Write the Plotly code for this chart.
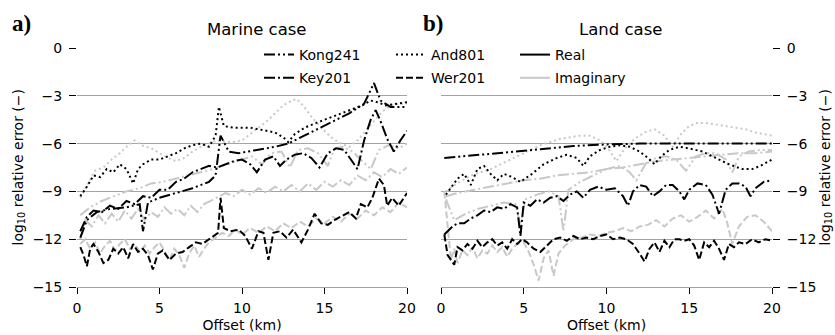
import plotly.graph_objects as go

# ---------------------------------------------------------------- data
# Offsets in km, errors as log10 of relative error.

# Marine case, real parts
mar_kong_re_x = [0.2, 0.6, 1.2, 2.0, 3.0, 3.8, 4.0, 4.3, 5.0, 6.0, 7.0, 8.0, 8.4, 8.7, 9.2, 9.8, 11.0, 12.0, 12.8, 13.6, 14.6, 15.6, 16.5, 17.4, 18.0, 18.4, 19.0, 20.0]
mar_kong_re_y = [-11.9, -10.8, -10.3, -10.1, -10.0, -9.8, -11.5, -9.7, -9.4, -9.1, -8.8, -8.4, -8.0, -5.5, -6.5, -6.6, -6.4, -6.2, -6.0, -5.6, -5.1, -4.6, -4.1, -3.5, -2.2, -3.3, -3.7, -3.7]

mar_key_re_x = [0.2, 0.6, 1.0, 1.5, 2.0, 2.5, 3.0, 3.5, 4.0, 4.5, 5.0, 5.5, 6.0, 6.5, 7.0, 7.5, 8.0, 8.5, 9.0, 9.5, 10.0, 10.5, 10.9, 11.4, 11.9, 12.3, 12.7, 13.2, 13.7, 14.2, 14.7, 15.2, 15.7, 16.2, 16.6, 17.0, 17.4, 17.8, 18.1, 18.4, 18.8, 19.2, 19.6, 20.0]
mar_key_re_y = [-11.5, -10.6, -10.2, -10.3, -9.9, -10.1, -9.6, -9.8, -9.3, -9.4, -8.9, -8.9, -8.4, -8.2, -7.8, -7.6, -7.4, -7.5, -7.3, -7.1, -7.0, -7.3, -7.8, -7.0, -6.8, -7.4, -7.0, -6.7, -6.6, -6.9, -7.5, -6.6, -6.3, -6.4, -7.0, -7.6, -5.8, -4.5, -3.9, -4.6, -5.7, -6.5, -5.8, -5.2]

mar_and_re_x = [0.2, 0.6, 1.0, 1.4, 1.8, 2.2, 2.6, 3.0, 3.4, 3.7, 4.0, 4.5, 5.0, 5.5, 6.0, 6.5, 7.0, 7.5, 8.0, 8.4, 8.6, 8.9, 9.5, 10.0, 10.5, 11.0, 11.5, 12.0, 12.5, 12.8, 13.2, 13.8, 14.5, 15.5, 16.5, 17.3, 17.8, 18.2, 18.7, 19.3, 20.0]
mar_and_re_y = [-9.3, -8.7, -8.0, -8.1, -7.6, -7.8, -7.3, -7.6, -8.5, -7.6, -7.3, -7.0, -7.0, -6.8, -6.6, -6.3, -6.1, -6.0, -6.2, -5.5, -3.7, -4.9, -5.0, -5.0, -5.0, -5.1, -5.2, -5.3, -5.6, -5.9, -5.4, -5.0, -4.7, -4.3, -3.9, -3.6, -3.3, -3.4, -3.6, -3.5, -3.4]

mar_wer_re_x = [0.2, 0.4, 0.6, 0.8, 1.0, 1.3, 1.6, 1.9, 2.2, 2.5, 2.8, 3.1, 3.4, 3.7, 4.0, 4.3, 4.6, 4.9, 5.2, 5.6, 6.0, 6.4, 6.8, 7.2, 7.6, 8.0, 8.3, 8.55, 8.7, 8.9, 9.3, 9.8, 10.2, 10.6, 11.0, 11.3, 11.6, 11.9, 12.3, 12.7, 13.1, 13.6, 14.0, 14.4, 14.8, 15.2, 15.6, 16.0, 16.5, 16.9, 17.2, 17.6, 17.9, 18.3, 18.6, 18.8, 19.1, 19.5, 20.0]
mar_wer_re_y = [-12.5, -13.0, -13.7, -12.6, -12.3, -12.8, -13.5, -13.3, -12.6, -12.9, -12.5, -13.2, -12.3, -12.8, -12.6, -13.0, -13.9, -12.9, -12.7, -13.3, -12.9, -12.8, -12.5, -12.2, -12.3, -12.0, -11.8, -11.6, -9.4, -11.3, -11.5, -11.4, -11.8, -12.6, -11.5, -11.6, -13.3, -11.6, -11.5, -11.9, -11.4, -12.2, -11.4, -10.4, -11.0, -11.1, -10.8, -10.6, -10.3, -10.7, -9.8, -10.0, -9.4, -8.2, -8.6, -9.9, -9.4, -9.9, -9.1]

# Marine case, imaginary parts
mar_kong_im_x = [0.2, 0.8, 1.5, 2.2, 3.0, 3.8, 4.5, 5.2, 6.0, 6.8, 7.5, 8.2, 8.8, 9.4, 10.0, 10.6, 11.2, 11.8, 12.4, 12.9, 13.4, 14.0, 14.6, 15.2, 15.6, 16.1, 16.7, 17.3, 17.8, 18.3, 18.9, 19.5, 20.0]
mar_kong_im_y = [-10.5, -10.0, -9.6, -9.3, -9.0, -8.8, -8.5, -8.4, -8.2, -8.0, -7.8, -7.6, -7.4, -7.2, -7.0, -6.8, -7.3, -6.6, -6.5, -7.5, -6.4, -6.3, -6.6, -7.4, -6.3, -6.2, -6.5, -7.1, -7.6, -6.4, -6.1, -6.3, -6.0]

mar_key_im_x = [0.2, 0.5, 0.9, 1.3, 1.7, 2.1, 2.5, 2.9, 3.3, 3.7, 4.1, 4.5, 4.9, 5.3, 5.7, 6.1, 6.5, 6.9, 7.3, 7.7, 8.1, 8.5, 9.0, 9.5, 10.0, 10.5, 11.0, 11.5, 12.0, 12.5, 13.0, 13.5, 14.0, 14.5, 15.0, 15.5, 16.0, 16.5, 17.0, 17.5, 18.0, 18.5, 19.0, 19.5, 20.0]
mar_key_im_y = [-12.0, -10.8, -11.2, -10.5, -11.0, -10.4, -10.9, -10.2, -10.7, -10.1, -10.8, -10.3, -10.6, -10.0, -10.4, -10.1, -10.5, -9.9, -10.3, -9.8, -9.6, -9.4, -9.1, -9.3, -8.9, -9.2, -8.8, -9.1, -8.7, -9.0, -8.6, -9.0, -8.5, -8.9, -8.4, -8.7, -8.3, -8.6, -8.0, -8.3, -7.8, -8.1, -7.6, -7.9, -7.5]

mar_and_im_x = [0.2, 0.6, 1.1, 1.6, 2.1, 2.6, 3.1, 3.5, 3.9, 4.5, 5.0, 5.5, 6.0, 6.5, 7.0, 7.5, 8.0, 8.5, 9.0, 9.5, 10.0, 10.5, 11.0, 11.5, 12.0, 12.5, 13.0, 13.3, 13.7, 14.2, 14.8, 15.4, 16.0, 16.5, 17.0, 17.5, 18.0, 18.5, 19.0, 19.5, 20.0]
mar_and_im_y = [-9.4, -8.6, -7.7, -7.5, -7.0, -6.6, -6.1, -5.8, -6.1, -6.3, -6.6, -6.9, -7.1, -6.9, -6.5, -6.2, -6.0, -5.8, -5.9, -5.9, -5.8, -5.4, -5.0, -4.6, -4.1, -3.6, -3.3, -3.2, -3.6, -4.3, -5.0, -5.6, -6.0, -6.2, -5.8, -5.2, -4.6, -4.0, -3.6, -3.5, -3.5]

mar_wer_im_x = [0.2, 0.5, 0.8, 1.1, 1.4, 1.7, 2.0, 2.3, 2.6, 2.9, 3.2, 3.5, 3.8, 4.1, 4.4, 4.7, 5.0, 5.3, 5.6, 5.9, 6.2, 6.5, 6.8, 7.1, 7.4, 7.7, 8.0, 8.4, 8.8, 9.2, 9.6, 10.0, 10.5, 11.0, 11.5, 12.0, 12.5, 13.0, 13.5, 14.0, 14.5, 15.0, 15.5, 16.0, 16.5, 17.0, 17.5, 18.0, 18.5, 19.0, 19.5, 20.0]
mar_wer_im_y = [-12.3, -12.0, -12.6, -12.2, -12.9, -12.4, -12.1, -12.7, -12.3, -12.0, -12.6, -12.3, -12.8, -12.4, -12.9, -12.5, -12.2, -12.8, -13.3, -12.6, -13.0, -13.8, -12.9, -12.4, -13.1, -12.6, -12.2, -11.9, -11.6, -11.8, -11.4, -11.7, -11.3, -11.6, -11.2, -11.5, -11.0, -11.3, -10.9, -11.2, -10.7, -11.0, -10.6, -10.9, -10.4, -10.7, -10.2, -10.5, -10.0, -10.3, -9.7, -10.0]

# Land case, real parts
land_kong_re_x = [0.2, 2.0, 4.0, 6.0, 8.0, 10.0, 12.0, 14.0, 16.0, 18.0, 20.0]
land_kong_re_y = [-6.9, -6.75, -6.55, -6.35, -6.15, -6.05, -6.0, -6.0, -6.0, -6.0, -6.0]

land_key_re_x = [0.2, 0.4, 0.7, 1.0, 1.4, 1.8, 2.2, 2.6, 3.0, 3.4, 3.8, 4.2, 4.6, 4.8, 5.0, 5.4, 5.8, 6.2, 6.6, 7.0, 7.4, 7.8, 8.2, 8.6, 9.0, 9.5, 10.0, 10.5, 11.0, 11.3, 11.6, 12.0, 12.4, 12.8, 13.2, 13.6, 14.0, 14.4, 14.7, 15.0, 15.5, 16.0, 16.4, 16.8, 17.2, 17.6, 18.0, 18.4, 18.7, 19.0, 19.5, 20.0]
land_key_re_y = [-11.7, -11.5, -11.2, -11.0, -11.0, -10.7, -10.5, -10.2, -10.3, -10.0, -10.1, -9.8, -10.0, -11.8, -9.7, -9.9, -9.5, -9.7, -9.4, -9.3, -9.6, -9.2, -9.0, -9.4, -8.9, -8.7, -8.9, -8.8, -9.3, -9.9, -9.0, -8.6, -8.7, -9.3, -9.0, -8.6, -8.6, -9.0, -9.5, -8.9, -8.5, -8.6, -9.2, -10.4, -8.9, -8.5, -8.5, -8.7, -9.3, -8.8, -8.4, -8.3]

land_and_re_x = [0.3, 0.6, 1.0, 1.4, 1.8, 2.2, 2.6, 3.0, 3.4, 3.8, 4.3, 4.8, 5.5, 6.2, 7.0, 7.6, 8.2, 8.6, 9.0, 9.6, 10.2, 10.8, 11.4, 12.0, 12.5, 12.9, 13.3, 13.8, 14.4, 15.0, 15.8, 16.6, 17.4, 18.2, 18.8, 19.3, 19.7, 20.0]
land_and_re_y = [-9.2, -8.8, -8.2, -7.9, -8.6, -7.6, -7.4, -7.9, -8.3, -7.9, -8.1, -8.4, -7.9, -7.3, -6.9, -6.7, -6.9, -7.4, -6.8, -6.4, -6.2, -6.1, -6.2, -6.5, -6.9, -7.3, -6.8, -6.4, -6.2, -6.3, -6.5, -6.9, -7.3, -7.6, -7.6, -7.4, -7.2, -7.0]

land_wer_re_x = [0.2, 0.4, 0.6, 0.8, 1.0, 1.3, 1.6, 1.9, 2.2, 2.5, 2.8, 3.1, 3.4, 3.7, 4.0, 4.3, 4.6, 4.9, 5.2, 5.6, 6.0, 6.4, 6.8, 7.2, 7.6, 8.0, 8.4, 8.8, 9.2, 9.6, 10.0, 10.4, 10.8, 11.2, 11.6, 12.0, 12.3, 12.6, 12.9, 13.2, 13.5, 13.8, 14.1, 14.4, 14.7, 15.0, 15.3, 15.6, 15.9, 16.2, 16.5, 16.8, 17.1, 17.4, 17.7, 18.0, 18.4, 18.8, 19.2, 19.6, 20.0]
land_wer_re_y = [-11.7, -13.0, -13.3, -13.6, -12.5, -12.7, -12.3, -12.6, -12.1, -12.5, -12.2, -12.0, -12.4, -12.2, -12.6, -12.0, -12.3, -12.0, -12.2, -12.6, -12.8, -12.4, -12.0, -11.9, -12.1, -11.8, -12.0, -11.9, -12.0, -11.8, -11.7, -12.0, -11.9, -12.0, -12.3, -12.9, -13.4, -12.6, -12.2, -12.8, -12.1, -12.5, -12.0, -12.0, -12.1, -12.0, -12.4, -13.3, -12.2, -12.5, -12.1, -12.6, -13.3, -12.3, -12.5, -12.2, -12.3, -12.0, -12.2, -12.0, -12.1]

# Land case, imaginary parts
land_kong_im_x = [0.3, 0.8, 1.5, 2.2, 3.0, 3.8, 4.5, 4.8, 5.1, 5.8, 6.5, 7.1, 7.4, 7.7, 8.4, 9.2, 10.0, 10.8, 11.4, 11.8, 12.4, 13.0, 13.6, 14.2, 14.8, 15.4, 16.0, 16.6, 17.2, 17.6, 18.0, 18.6, 19.3, 20.0]
land_kong_im_y = [-9.5, -10.8, -10.4, -10.1, -9.9, -9.7, -9.8, -11.1, -9.5, -9.2, -9.0, -9.3, -11.5, -8.9, -8.4, -8.0, -7.6, -7.4, -7.8, -8.3, -7.2, -6.9, -6.8, -7.0, -7.7, -6.8, -6.6, -6.6, -7.0, -7.8, -6.8, -6.5, -6.4, -6.4]

land_key_im_x = [0.3, 1.0, 2.0, 3.0, 4.0, 5.0, 6.0, 7.0, 8.0, 9.0, 10.0, 11.0, 12.0, 13.0, 14.0, 15.0, 16.0, 17.0, 18.0, 19.0, 20.0]
land_key_im_y = [-9.3, -9.1, -8.9, -8.7, -8.5, -8.3, -8.2, -8.0, -7.9, -7.8, -7.6, -7.5, -7.3, -7.1, -7.0, -6.9, -6.8, -6.7, -6.6, -6.6, -6.5]

land_and_im_x = [0.3, 0.8, 1.3, 1.8, 2.4, 3.0, 3.6, 4.2, 4.8, 5.4, 6.0, 6.6, 7.2, 7.8, 8.4, 9.0, 9.6, 10.1, 10.6, 11.1, 11.7, 12.3, 12.9, 13.5, 14.0, 14.5, 15.0, 15.5, 16.0, 16.6, 17.2, 17.8, 18.4, 19.0, 19.5, 20.0]
land_and_im_y = [-9.0, -8.6, -8.3, -8.0, -7.8, -7.6, -7.3, -7.0, -6.7, -6.4, -6.1, -5.9, -5.7, -5.6, -5.5, -5.5, -5.8, -6.3, -7.1, -6.3, -5.7, -5.3, -5.1, -5.5, -6.2, -5.4, -4.9, -4.7, -4.7, -4.8, -4.9, -5.0, -5.1, -5.3, -5.4, -5.5]

land_wer_im_x = [0.2, 0.4, 0.6, 0.8, 1.0, 1.3, 1.6, 1.9, 2.2, 2.5, 2.8, 3.1, 3.4, 3.7, 4.0, 4.3, 4.6, 5.0, 5.3, 5.6, 5.9, 6.2, 6.5, 6.8, 7.1, 7.5, 8.0, 8.5, 9.0, 9.5, 10.0, 10.5, 11.0, 11.5, 12.0, 12.5, 13.0, 13.5, 14.0, 14.5, 15.0, 15.5, 16.0, 16.5, 17.0, 17.3, 17.6, 18.0, 18.5, 19.0, 19.5, 20.0]
land_wer_im_y = [-9.0, -11.0, -13.3, -12.6, -13.5, -12.7, -13.0, -12.5, -13.2, -12.7, -12.9, -12.4, -12.8, -12.5, -13.1, -12.6, -12.3, -12.2, -12.8, -13.6, -14.6, -13.2, -12.7, -14.3, -12.9, -12.4, -12.0, -11.9, -11.7, -11.8, -11.6, -11.5, -11.3, -11.5, -11.2, -11.1, -10.8, -11.2, -10.7, -10.5, -10.9, -10.6, -10.2, -10.7, -10.1, -11.0, -12.3, -11.2, -10.6, -10.5, -10.9, -11.5]

filters = ["Kong241", "Key201", "And801", "Wer201"]
y_ticks = [0, -3, -6, -9, -12, -15]
x_ticks = [0, 5, 10, 15, 20]

# ---------------------------------------------------------------- styles
BLACK = "#000000"
GREY = "#c8c8c8"
GRID = "#a3a3a3"
FONT = "DejaVu Sans"
LW = 2
DASHES = {
    "Kong241": "11px,3px,2px,3px,2px,3px",
    "Key201": "11px,3px,2px,3px",
    "And801": "2px,3px",
    "Wer201": "7px,3px",
}

panels = {
    "x": {  # marine
        "Kong241": ((mar_kong_re_x, mar_kong_re_y), (mar_kong_im_x, mar_kong_im_y)),
        "Key201": ((mar_key_re_x, mar_key_re_y), (mar_key_im_x, mar_key_im_y)),
        "And801": ((mar_and_re_x, mar_and_re_y), (mar_and_im_x, mar_and_im_y)),
        "Wer201": ((mar_wer_re_x, mar_wer_re_y), (mar_wer_im_x, mar_wer_im_y)),
    },
    "x2": {  # land
        "Kong241": ((land_kong_re_x, land_kong_re_y), (land_kong_im_x, land_kong_im_y)),
        "Key201": ((land_key_re_x, land_key_re_y), (land_key_im_x, land_key_im_y)),
        "And801": ((land_and_re_x, land_and_re_y), (land_and_im_x, land_and_im_y)),
        "Wer201": ((land_wer_re_x, land_wer_re_y), (land_wer_im_x, land_wer_im_y)),
    },
}

fig = go.Figure()

# imaginary (grey) first, real (black) on top
for part, colour in ((1, GREY), (0, BLACK)):
    for xa, data in panels.items():
        ya = "y" if xa == "x" else "y2"
        for name in filters:
            xs, ys = data[name][part]
            fig.add_trace(go.Scatter(
                x=xs, y=ys, xaxis=xa, yaxis=ya, mode="lines",
                line=dict(color=colour, width=LW, dash=DASHES[name]),
                showlegend=False, hoverinfo="skip",
            ))

# legend entries: three columns of two rows
legend_cols = [
    ("legend", [("Kong241", BLACK, DASHES["Kong241"]), ("Key201", BLACK, DASHES["Key201"])]),
    ("legend2", [("And801", BLACK, DASHES["And801"]), ("Wer201", BLACK, DASHES["Wer201"])]),
    ("legend3", [("Real", BLACK, "solid"), ("Imaginary", GREY, "solid")]),
]
for leg, items in legend_cols:
    for label, colour, dash in items:
        fig.add_trace(go.Scatter(
            x=[None], y=[None], mode="lines", name=label, legend=leg,
            legendgroup=label,
            line=dict(color=colour, width=LW, dash=dash),
        ))

W, H = 835, 335
ML, MR, MT, MB = 77, 63, 48, 48
PW = W - ML - MR
PH = H - MT - MB
split_l = (407 - ML) / PW
split_r = (441 - ML) / PW

axis_font = dict(family=FONT, size=14, color="black")
xcommon = dict(
    range=[0, 20], tickvals=x_ticks, showgrid=False, zeroline=False,
    showline=True, linecolor=GRID, linewidth=1,
    ticks="outside", ticklen=6, tickwidth=1.2, tickcolor="black",
    ticklabelstandoff=2,
    tickfont=axis_font, title=dict(text="Offset (km)", font=axis_font, standoff=5),
    automargin=False,
)
ycommon = dict(
    range=[-15, 0], tickvals=y_ticks, showgrid=True, gridcolor=GRID, gridwidth=1,
    zeroline=False, showline=False,
    ticks="outside", ticklen=7, tickwidth=1.2, tickcolor="black",
    ticklabelstandoff=4,
    tickfont=axis_font,
    automargin=False,
)

legend_x = [265, 397, 521]
legends = {}
for (leg, _), px in zip(legend_cols, legend_x):
    legends[leg] = dict(
        x=(px - 6) / W, xref="container", xanchor="left",
        y=1 - 39 / H, yref="container", yanchor="top",
        orientation="v", bgcolor="rgba(0,0,0,0)", borderwidth=0,
        font=dict(family=FONT, size=14, color="black"),
        tracegroupgap=2,
    )


def px_x(p):
    return (p - ML) / PW


def px_y(p):
    return (H - MB - p) / PH


ytitle = "log<sub>10</sub> relative error (−)"
text_font = dict(family=FONT, size=14, color="black")

fig.update_layout(
    width=W, height=H,
    margin=dict(l=ML, r=MR, t=MT, b=MB, autoexpand=False),
    plot_bgcolor="white", paper_bgcolor="white",
    font=dict(family=FONT, size=14, color="black"),
    xaxis=dict(domain=[0, split_l], anchor="y", **xcommon),
    yaxis=dict(domain=[0, 1], anchor="x", side="left", **ycommon),
    xaxis2=dict(domain=[split_r, 1], anchor="y2", **xcommon),
    yaxis2=dict(domain=[0, 1], anchor="x2", side="right", **ycommon),
    **legends,
    annotations=[
        dict(text="Marine case", x=px_x(257), y=px_y(30), xref="paper", yref="paper",
             showarrow=False, font=dict(family=FONT, size=16.5), xanchor="center", yanchor="middle"),
        dict(text="Land case", x=px_x(620), y=px_y(30), xref="paper", yref="paper",
             showarrow=False, font=dict(family=FONT, size=16.5), xanchor="center", yanchor="middle"),
        dict(text="<b>a)</b>", x=px_x(10), y=px_y(23), xref="paper", yref="paper",
             showarrow=False, font=dict(family="Liberation Serif", size=23), xanchor="left", yanchor="middle"),
        dict(text="<b>b)</b>", x=px_x(421), y=px_y(23), xref="paper", yref="paper",
             showarrow=False, font=dict(family="Liberation Serif", size=23), xanchor="left", yanchor="middle"),
        dict(text=ytitle, x=px_x(18), y=0.5, xref="paper", yref="paper", textangle=-90,
             showarrow=False, font=text_font, xanchor="center", yanchor="middle"),
        dict(text=ytitle, x=px_x(825), y=0.5, xref="paper", yref="paper", textangle=-90,
             showarrow=False, font=text_font, xanchor="center", yanchor="middle"),
    ],
)

fig.write_html("out.html")
